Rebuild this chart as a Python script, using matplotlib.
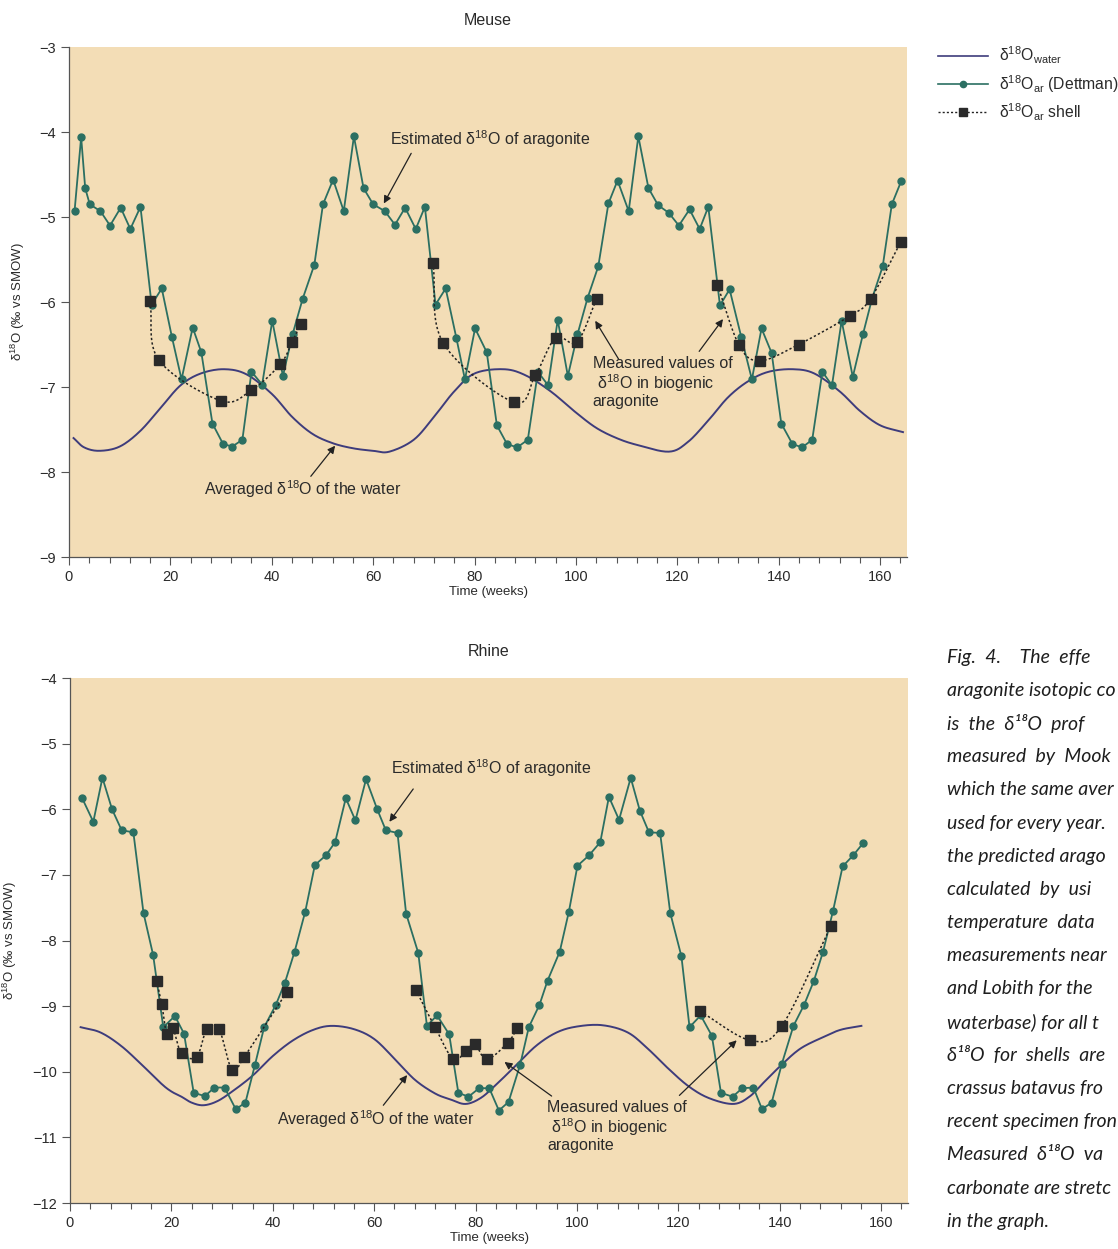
"""Meuse / Rhine d18O panels: water, Dettman aragonite and shell values."""
import matplotlib
matplotlib.use("Agg")
import matplotlib.pyplot as plt
import numpy as np
from matplotlib.lines import Line2D

plt.rcParams["font.family"] = ["Liberation Sans", "DejaVu Sans"]
plt.rcParams["mathtext.fontset"] = "custom"
plt.rcParams["mathtext.rm"] = "Liberation Sans"
plt.rcParams["mathtext.it"] = "Liberation Sans:italic"

# ---------------------------------------------------------------------------
# data
# ---------------------------------------------------------------------------

# Meuse
meuse_water_wk = [0.9, 3, 6, 10, 14, 18, 22, 26, 30.6, 35, 40, 44, 48, 52, 56, 60,
                  63.2, 68, 72, 76, 80, 85.7, 90, 95, 100, 104, 108, 112, 118.3,
                  122, 126, 130, 134, 138, 142.8, 147, 152, 156, 160, 164.5]
meuse_water = [-7.60, -7.71, -7.75, -7.70, -7.52, -7.25, -6.98, -6.84, -6.79, -6.85,
               -7.08, -7.35, -7.55, -7.66, -7.72, -7.75, -7.76, -7.62, -7.35, -7.05,
               -6.84, -6.79, -6.86, -7.05, -7.30, -7.48, -7.60, -7.68, -7.76, -7.65,
               -7.40, -7.12, -6.93, -6.82, -6.79, -6.84, -7.05, -7.28, -7.45, -7.53]

meuse_ar_wk = [1.1, 2.4, 3.2, 4.1, 6.2, 8.1, 10.2, 12.1, 14.1, 16.3, 18.3, 20.3, 22.2,
               24.4, 26.1, 28.3, 30.4, 32.2, 34.2, 36.0, 38.1, 40.1, 42.2, 44.1, 46.1,
               48.4, 50.1, 52.1, 54.2, 56.2, 58.1, 60.0, 62.3, 64.3, 66.3, 68.4, 70.2,
               72.3, 74.3, 76.4, 78.1, 80.1, 82.4, 84.4, 86.4, 88.4, 90.5, 92.5, 94.5,
               96.4, 98.4, 100.3, 102.3, 104.4, 106.4, 108.2, 110.4, 112.3, 114.3, 116.2,
               118.3, 120.3, 122.4, 124.4, 126.1, 128.4, 130.3, 132.6, 134.7, 136.6,
               138.6, 140.5, 142.7, 144.6, 146.6, 148.6, 150.5, 152.4, 154.6, 156.6,
               158.4, 160.5, 162.3, 164.2]
meuse_ar = [-4.93, -4.06, -4.66, -4.85, -4.93, -5.10, -4.89, -5.14, -4.88, -6.03, -5.84,
            -6.41, -6.91, -6.30, -6.59, -7.43, -7.67, -7.70, -7.62, -6.82, -6.97, -6.22,
            -6.87, -6.38, -5.96, -5.56, -4.85, -4.56, -4.93, -4.05, -4.66, -4.85, -4.93,
            -5.09, -4.89, -5.14, -4.88, -6.03, -5.84, -6.42, -6.91, -6.31, -6.59, -7.45,
            -7.67, -7.71, -7.62, -6.82, -6.98, -6.21, -6.87, -6.38, -5.95, -5.58, -4.84,
            -4.57, -4.93, -4.05, -4.66, -4.86, -4.95, -5.10, -4.91, -5.14, -4.88, -6.04,
            -5.85, -6.41, -6.91, -6.31, -6.60, -7.43, -7.67, -7.71, -7.62, -6.82, -6.98,
            -6.22, -6.88, -6.38, -5.96, -5.58, -4.85, -4.57]

meuse_shell_wk = [[16.0, 17.7, 29.9, 35.9, 41.7, 44.0, 45.7],
                  [71.8, 73.8, 87.8, 92.0, 96.0, 100.2, 104.1],
                  [127.9, 132.2, 136.3, 143.9, 154.1, 158.1, 164.1]]
meuse_shell = [[-5.99, -6.68, -7.16, -7.04, -6.73, -6.47, -6.26],
               [-5.54, -6.48, -7.18, -6.86, -6.42, -6.47, -5.96],
               [-5.80, -6.51, -6.69, -6.50, -6.16, -5.96, -5.29]]

# Rhine
rhine_water_wk = [2.1, 6, 10, 14, 18, 20, 22, 24, 26.3, 29, 32, 36, 40, 44, 48, 51.6,
                  56, 60, 64, 68, 72, 75, 78, 81, 84, 88, 92, 96, 100, 105, 110, 114,
                  118, 122, 126, 130.8, 134, 137, 140, 144, 148.6, 152, 156.1]
rhine_water = [-9.32, -9.40, -9.60, -9.88, -10.18, -10.30, -10.38, -10.47, -10.51,
               -10.45, -10.30, -10.06, -9.76, -9.52, -9.36, -9.30, -9.35, -9.50, -9.80,
               -10.12, -10.33, -10.42, -10.49, -10.40, -10.20, -9.90, -9.60, -9.40,
               -9.31, -9.29, -9.40, -9.65, -9.95, -10.22, -10.40, -10.49, -10.38,
               -10.15, -9.92, -9.65, -9.47, -9.36, -9.30]

rhine_ar_wk = [2.4, 4.6, 6.4, 8.3, 10.2, 12.5, 14.5, 16.4, 18.4, 20.7, 22.5, 24.4, 26.6,
               28.5, 30.5, 32.7, 34.6, 36.5, 38.3, 40.6, 42.4, 44.3, 46.4, 48.3, 50.5,
               52.3, 54.4, 56.3, 58.4, 60.6, 62.3, 64.6, 66.3, 68.7, 70.4, 72.4, 74.8,
               76.6, 78.6, 80.7, 82.7, 84.6, 86.5, 88.8, 90.5, 92.6, 94.2, 96.6, 98.4,
               100.1, 102.4, 104.6, 106.3, 108.3, 110.6, 112.4, 114.2, 116.4, 118.4,
               120.6, 122.2, 124.4, 126.6, 128.4, 130.7, 132.6, 134.8, 136.5, 138.4,
               140.4, 142.7, 144.8, 146.7, 148.5, 150.5, 152.4, 154.5, 156.5]
rhine_ar = [-5.83, -6.19, -5.52, -6.00, -6.32, -6.35, -7.58, -8.22, -9.32, -9.15, -9.42,
            -10.32, -10.37, -10.24, -10.24, -10.57, -10.47, -9.89, -9.32, -8.98, -8.64,
            -8.17, -7.56, -6.85, -6.70, -6.50, -5.83, -6.17, -5.54, -6.00, -6.32, -6.36,
            -7.59, -8.19, -9.30, -9.14, -9.43, -10.32, -10.38, -10.25, -10.25, -10.59,
            -10.46, -9.89, -9.32, -8.98, -8.61, -8.17, -7.56, -6.86, -6.70, -6.50, -5.81,
            -6.16, -5.52, -6.02, -6.35, -6.36, -7.58, -8.24, -9.32, -9.14, -9.45, -10.32,
            -10.38, -10.25, -10.24, -10.57, -10.47, -9.88, -9.30, -8.98, -8.62, -8.18,
            -7.55, -6.87, -6.70, -6.51]

rhine_shell_wk = [[17.1, 18.1, 19.1, 20.3, 22.0, 25.0, 27.0, 29.4, 32.0, 34.4, 42.8],
                  [68.2, 72.0, 75.6, 78.1, 79.9, 82.2, 86.3, 88.2],
                  [124.3, 134.2, 140.4, 150.1]]
rhine_shell = [[-8.61, -8.97, -9.42, -9.34, -9.72, -9.77, -9.35, -9.35, -9.98, -9.77, -8.78],
               [-8.75, -9.32, -9.81, -9.68, -9.58, -9.81, -9.56, -9.34],
               [-9.08, -9.52, -9.30, -7.78]]

CAPTION = [
    "Fig.  4.    The  effe",
    "aragonite isotopic co",
    "is  the  δ¹⁸O  prof",
    "measured  by  Mook",
    "which the same aver",
    "used for every year.",
    "the predicted arago",
    "calculated  by  usi",
    "temperature  data",
    "measurements near",
    "and Lobith for the",
    "waterbase) for all t",
    "δ¹⁸O  for  shells  are",
    "crassus batavus fro",
    "recent specimen fron",
    "Measured  δ¹⁸O  va",
    "carbonate are stretc",
    "in the graph.",
]

BG = "#F3DDB6"
GREEN = "#2B6F62"
NAVY = "#3E3C7C"
SQUARE = "#2A2A2A"
TXT = "#2A2A2A"
D18 = r"δ$^{18}$O"
NOTE_FS = 11.5


def smooth(x, y, n=16):
    """Catmull-Rom path through the points (drawing only)."""
    x = np.asarray(x, float)
    y = np.asarray(y, float)
    if len(x) < 3:
        return x, y
    px = np.r_[2 * x[0] - x[1], x, 2 * x[-1] - x[-2]]
    py = np.r_[2 * y[0] - y[1], y, 2 * y[-1] - y[-2]]
    t = np.linspace(0, 1, n, endpoint=False)[:, None]
    xs, ys = [], []
    for i in range(1, len(px) - 2):
        for arr, out in ((px, xs), (py, ys)):
            p0, p1, p2, p3 = arr[i - 1:i + 3]
            out.append((0.5 * (2 * p1 + (-p0 + p2) * t + (2 * p0 - 5 * p1 + 4 * p2 - p3) * t ** 2
                               + (-p0 + 3 * p1 - 3 * p2 + p3) * t ** 3)).ravel())
    return np.r_[np.concatenate(xs), x[-1]], np.r_[np.concatenate(ys), y[-1]]


def style_axes(ax, ylim, title):
    ax.set_facecolor(BG)
    ax.set_xlim(0, 165.3)
    ax.set_ylim(*ylim)
    for s in ("top", "right"):
        ax.spines[s].set_visible(False)
    for s in ("left", "bottom"):
        ax.spines[s].set_color("#555555")
        ax.spines[s].set_linewidth(0.9)
    ax.set_xticks(np.arange(0, 161, 20))
    ax.set_xticks(np.arange(0, 165, 4), minor=True)
    ax.set_yticks(np.arange(ylim[0], ylim[1] + 1, 1))
    ax.tick_params(which="major", direction="out", length=6, width=0.8,
                   color="#555555", labelsize=10.5, labelcolor=TXT)
    ax.tick_params(which="minor", direction="out", length=4, width=0.8, color="#555555")
    ax.yaxis.set_major_formatter(plt.FuncFormatter(lambda v, _: f"{int(v)}".replace("-", "−")))
    ax.set_xlabel("Time (weeks)", fontsize=9.5, color=TXT, labelpad=1)
    ax.set_ylabel(D18 + " (‰ vs SMOW)", fontsize=9.5, color=TXT, labelpad=9)
    ax.set_title(title, fontsize=11.5, color=TXT, pad=16)


def draw_panel(ax, water_wk, water, ar_wk, ar, shell_wk, shell):
    wx, wy = smooth(water_wk, water)
    ax.plot(wx, wy, color=NAVY, lw=1.4, zorder=2)
    ax.plot(ar_wk, ar, color=GREEN, lw=1.3, marker="o", ms=5, mfc=GREEN, mec=GREEN, zorder=3)
    for sx, sy in zip(shell_wk, shell):
        cx, cy = smooth(sx, sy)
        ax.plot(cx, cy, color="#222222", lw=1.1, ls=(0, (1.5, 1.5)), zorder=4)
        ax.plot(sx, sy, ls="none", marker="s", ms=6.5, color=SQUARE, zorder=5)


def arrow(ax, tail, head):
    ax.annotate("", xy=head, xytext=tail,
                arrowprops=dict(arrowstyle="-|>", color="#222222", lw=0.9,
                                mutation_scale=11, shrinkA=0, shrinkB=0))


def label(ax, x, y, text):
    ax.text(x, y, text, fontsize=NOTE_FS, color=TXT, va="center", linespacing=1.05)


def main():
    fig = plt.figure(figsize=(11.18, 12.49), dpi=100)

    top = fig.add_axes([0.0617, 0.554, 0.7496, 0.4083])
    style_axes(top, (-9, -3), "Meuse")
    draw_panel(top, meuse_water_wk, meuse_water, meuse_ar_wk, meuse_ar,
               meuse_shell_wk, meuse_shell)
    label(top, 63.4, -4.08, "Estimated " + D18 + " of aragonite")
    label(top, 26.7, -8.2, "Averaged " + D18 + " of the water")
    label(top, 103.3, -6.95, "Measured values of\n " + D18 + " in biogenic\naragonite")
    for tail, head in (((67.5, -4.25), (62.1, -4.84)), ((47.7, -8.05), (52.5, -7.69)),
                       ((108.4, -6.67), (103.8, -6.22)), ((124.3, -6.58), (129.0, -6.20))):
        arrow(top, tail, head)

    bot = fig.add_axes([0.0626, 0.0368, 0.7496, 0.4203])
    style_axes(bot, (-12, -4), "Rhine")
    draw_panel(bot, rhine_water_wk, rhine_water, rhine_ar_wk, rhine_ar,
               rhine_shell_wk, rhine_shell)
    label(bot, 63.3, -5.37, "Estimated " + D18 + " of aragonite")
    label(bot, 40.9, -10.72, "Averaged " + D18 + " of the water")
    label(bot, 94.1, -10.84, "Measured values of\n " + D18 + " in biogenic\naragonite")
    for tail, head in (((67.7, -5.69), (63.0, -6.19)), ((61.8, -10.51), (66.5, -10.05)),
                       ((95.0, -10.37), (85.7, -9.85)), ((120.2, -10.36), (131.5, -9.52))):
        arrow(bot, tail, head)

    handles = [
        Line2D([], [], color=NAVY, lw=1.2),
        Line2D([], [], color=GREEN, lw=1.2, marker="o", ms=4.5),
        Line2D([], [], color="#222222", lw=1.0, ls=(0, (1.5, 1.5)), marker="s", ms=6,
               mfc=SQUARE, mec=SQUARE),
    ]
    labels = [D18 + r"$_{\rm water}$", D18 + r"$_{\rm ar}$ (Dettman)", D18 + r"$_{\rm ar}$ shell"]
    fig.legend(handles, labels, loc="upper left", bbox_to_anchor=(0.8335, 0.969),
               frameon=False, fontsize=11.3, handlelength=3.2, handletextpad=0.65,
               labelspacing=0.42, borderaxespad=0, labelcolor=TXT)

    y0 = 1 - 657 / 1249
    for i, line in enumerate(CAPTION):
        fig.text(0.847, y0 - i * 33.2 / 1249, line, fontsize=14, style="italic",
                 family=["Lato", "DejaVu Sans"], color="#1E1E1E", va="center")

    fig.savefig("out.png", dpi=100)
    plt.close(fig)


if __name__ == "__main__":
    main()
